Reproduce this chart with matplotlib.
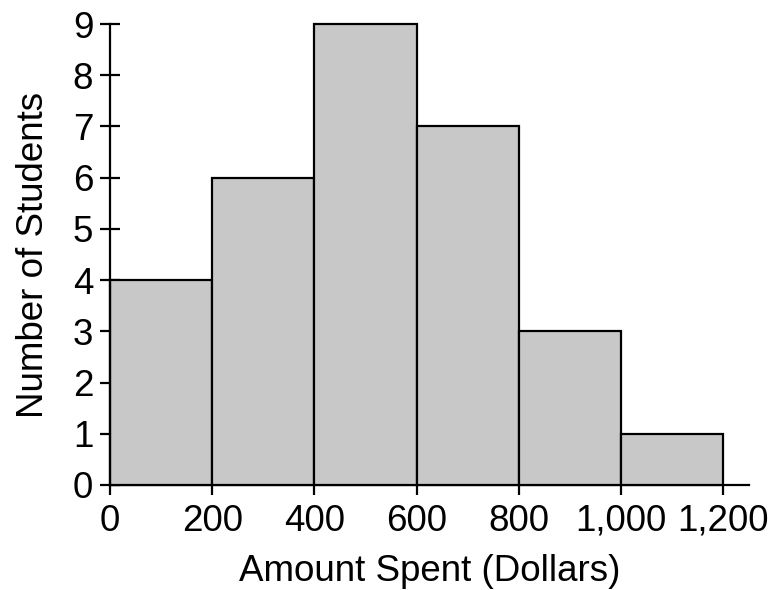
import matplotlib.pyplot as plt

plt.rcParams['font.family'] = ['Liberation Sans', 'DejaVu Sans']

bin_edges = [0, 200, 400, 600, 800, 1000]
counts = [4, 6, 9, 7, 3, 1]
bin_width = 200
xticks = [0, 200, 400, 600, 800, 1000, 1200]
xtick_labels = ['0', '200', '400', '600', '800', '1,000', '1,200']
yticks = list(range(10))

fig = plt.figure(figsize=(7.75, 5.9), dpi=100)
ax = fig.add_axes([0.1419, 0.178, 0.9662 - 0.1419, 0.9593 - 0.178])

ax.bar(bin_edges, counts, width=bin_width, align='edge', color='#c8c8c8',
       edgecolor='black', linewidth=1.6, clip_on=False, zorder=3)

ax.set_xlim(0, 1250)
ax.set_ylim(0, 9)
ax.spines['top'].set_visible(False)
ax.spines['right'].set_visible(False)
for s in ['left', 'bottom']:
    ax.spines[s].set_linewidth(1.6)
ax.spines['left'].set_zorder(4)

ax.set_xticks(xticks)
ax.set_xticklabels(xtick_labels)
ax.set_yticks(yticks)
ax.tick_params(axis='y', direction='inout', length=14, width=1.6, labelsize=26.5, pad=5)
ax.tick_params(axis='x', direction='out', length=7.5, width=1.6, labelsize=26.5, pad=6)

ax.set_xlabel('Amount Spent (Dollars)', fontsize=26.5, labelpad=11)
ax.set_ylabel('Number of Students', fontsize=26.5, labelpad=16)

fig.savefig('out.png', dpi=100)
